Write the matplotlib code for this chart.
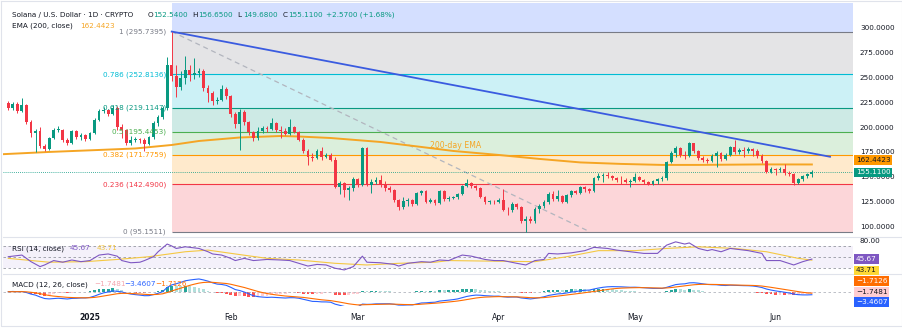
import matplotlib
matplotlib.use("Agg")
import matplotlib.pyplot as plt
import matplotlib.dates as mdates
from matplotlib.lines import Line2D
import numpy as np
import pandas as pd

plt.rcParams["font.family"] = ["DejaVu Sans"]

W, H = 903, 330

# daily candles, Dec 14 2024 .. Jun 9 2025 (open = previous close)
start_date = "2024-12-14"
first_open = 224.0
closes = [
    219, 223, 216, 222, 205, 194, 196, 181, 178, 189, 197, 197.5, 187, 184, 196, 190, 192, 188,
    194, 207, 216, 217, 213, 219, 200, 197, 184, 187, 187.5, 187, 183, 190, 204, 210, 219, 262,
    251, 240, 249, 257, 252, 254, 256, 239, 234, 226, 227, 238, 231,
    213, 203, 215, 205, 195, 189, 196, 199, 198.5, 204, 197, 196, 193, 200, 195, 187, 176, 170,
    169, 176, 170, 172, 167, 140, 144, 137, 139, 148,
    142, 179, 142, 145, 147, 142, 139, 137, 127, 120, 126, 127, 123, 134, 136, 125, 127, 124,
    136, 128, 129, 129.5, 133, 141, 144, 141, 139, 130, 125, 125, 124.5,
    127, 117, 116.5, 123, 120, 106, 107.5, 106, 118, 121, 125, 133, 128, 131, 125, 132, 136,
    134, 140, 138, 136, 149, 151, 152, 151, 149, 147, 146.5, 145, 146,
    150, 147, 145, 143, 146, 148, 149, 165, 174, 179, 172, 171, 183.5, 176, 169, 167, 166,
    171, 174, 168, 172, 180, 175, 177, 176, 178, 176, 171, 166, 155, 158,
    157, 158, 154, 153, 144, 148, 151, 152.54, 155.11,
]
highs = [
    226, 225, 225, 229, 223, 207, 198, 200, 183, 190, 199, 201, 198, 189, 197, 197, 194, 193,
    195, 209, 218, 220, 218, 222, 221, 203, 198, 191, 190, 189, 189, 191, 206, 212, 221, 270,
    295.74, 262, 256, 271, 262, 269, 259, 258, 242, 236, 230, 242, 240,
    232, 215, 218, 217, 206, 196, 200, 201, 201, 209, 205, 201, 199, 208, 201, 196, 189, 178,
    174, 178, 180, 174, 174, 170, 146, 145, 141, 150,
    149, 180, 180, 148, 150, 152, 146, 141, 138, 128, 130, 129, 128, 135, 137, 137, 129, 128,
    137, 137, 131, 131, 134, 142, 148, 145, 142, 140, 131, 127, 127,
    129, 138, 120, 125, 124, 121, 111, 111, 120, 123, 127, 135, 136, 137, 132, 133, 137,
    137, 141, 141, 139, 150, 154, 154, 155, 152, 150, 151, 149, 148,
    154, 151, 148, 146, 147, 149, 151, 166, 176, 181, 180, 176, 185, 184, 177, 171, 169,
    173, 176, 175, 174, 181, 187, 179, 180, 180, 179, 178, 173, 167, 160,
    159, 160, 163, 156, 154, 149, 152, 154, 156.65,
]
lows = [
    217, 217, 214, 215, 203, 190, 175, 179, 176, 177, 188, 195, 185, 182, 183, 188, 187, 186,
    187, 193, 206, 214, 211, 212, 197, 189, 182, 182, 185, 184, 176, 182, 188, 201, 208, 217,
    246, 230, 237, 243, 246, 248, 250, 236, 225, 222, 223, 226, 228,
    210, 199, 177, 202, 192, 186, 187, 194, 195, 197, 195, 189, 192, 192, 194, 186, 174, 162,
    166, 168, 167, 169, 166, 139, 133, 130, 127, 136,
    140, 141, 141, 134, 143, 140, 136, 135, 125, 117, 118, 121, 121, 122, 132, 124, 124, 122,
    123, 126, 126, 128, 128, 132, 140, 139, 137, 129, 123, 123, 123,
    124, 116, 112, 115, 118, 104, 95.15, 104, 104, 114, 119, 123, 126, 126, 124, 124, 130,
    133, 133, 135, 134, 135, 147, 145, 149, 147, 145, 143, 144, 140,
    145, 146, 143, 142, 142, 143, 146, 147, 164, 170, 170, 168, 170, 174, 167, 165, 164,
    165, 160, 166, 167, 171, 173, 173, 170, 174, 171, 169, 164, 154, 154,
    152, 155, 152, 151, 142, 143, 146, 149, 149.68,
]

# fibonacci retracement (Jan 19 high -> Apr 7 low)
fib_levels = [0, 0.236, 0.382, 0.5, 0.618, 0.786, 1, 1.618]
fib_colors = ["#787b86", "#f23645", "#ff9800", "#4caf50", "#089981", "#00bcd4", "#787b86", "#2962ff"]
fib_low, fib_high = 95.1511, 295.7395
fib_start = "2025-01-19"
fib_end = "2025-04-21"

# 200-day EMA (day offset from Jan 1 2025, value)
ema_days = [-19, -9, 2, 10, 18, 24, 33, 42, 46, 53, 64, 73, 80, 90, 99, 108, 117, 126, 134, 148, 159]
ema_vals = [172.8, 175, 177, 178.5, 182, 186, 189.5, 191, 190.5, 189, 185, 180, 176, 172, 168,
            164.5, 163, 162, 162, 162.5, 162.44]

# falling trendline
trend_dates = ["2025-01-19", "2025-06-13"]
trend_vals = [295.74, 170.2]

# RSI(14) and its MA
rsi_days = [-18, -15, -13, -11, -10, -8, -6, -4, -2, 0, 2, 4, 6, 7, 9, 11, 12, 14, 15, 17, 18, 19,
            21, 22, 24, 26, 27, 29, 31, 32, 34, 36, 39, 42, 44, 46, 48, 50, 52, 54, 56, 58, 60,
            61, 64, 67, 68, 70, 73, 75, 77, 79, 82, 84, 87, 89, 91, 94, 96, 98, 100, 101, 103,
            106, 109, 111, 114, 116, 119, 122, 125, 127, 129, 131, 132, 134, 136, 137, 139, 141,
            143, 145, 148, 149, 152, 155, 157, 159]
rsi_vals = [50, 53, 41, 32, 35, 43, 40, 44, 41, 43, 53, 55, 51, 43, 39, 40, 43, 50, 59, 73, 69.5,
            65, 68, 67, 65, 59, 55, 53, 47, 43, 47, 43, 45, 44, 43, 38, 33, 36, 35, 29, 26, 32,
            51, 40, 39, 36, 33, 38, 41, 40, 44, 43, 53, 51, 45, 43, 43, 38, 35, 43, 45, 56, 55,
            57, 61, 67, 65, 62, 59, 56, 56, 71, 77, 73, 75, 65, 61, 63, 59, 65, 63, 61, 56, 43,
            43, 35, 41, 45.67]
rsi_ma_days = [-18, -9, -1, 6, 13, 21, 26, 32, 39, 46, 54, 61, 68, 76, 79, 88, 98, 105, 112, 120,
               127, 134, 142, 149, 156, 159]
rsi_ma_vals = [47, 40, 41, 45, 50, 59, 62, 55, 47, 44, 38, 35, 38, 40, 43, 42, 41, 50, 61, 61, 65,
               68, 65, 59, 47, 43.71]

GREEN, RED = "#089981", "#f23645"
TXT = "#131722"
FS = 5.2


def rect(x0, y0, x1, y1):
    return [x0 / W, 1 - y1 / H, (x1 - x0) / W, (y1 - y0) / H]


def fpos(x, y):
    return x / W, 1 - y / H


c = np.array(closes, float)
o = np.concatenate([[first_open], c[:-1]])
hi = np.array(highs, float)
lo = np.array(lows, float)
dates = pd.date_range(start_date, periods=len(c))
x = mdates.date2num(dates)
jan1 = mdates.date2num(pd.Timestamp("2025-01-01"))

fig = plt.figure(figsize=(W / 100, H / 100), dpi=100)
ax = fig.add_axes(rect(3, 3, 853, 236))
ax_rsi = fig.add_axes(rect(3, 237, 853, 273), sharex=ax)
ax_macd = fig.add_axes(rect(3, 274, 853, 306), sharex=ax)
xmin, xmax = jan1 - 19.16, jan1 + 168.06

# --- fib bands
fx0 = mdates.date2num(pd.Timestamp(fib_start))
fprices = [fib_low + lv * (fib_high - fib_low) for lv in fib_levels]
for i in range(len(fib_levels) - 1):
    ax.fill_between([fx0, xmax], fprices[i], fprices[i + 1], color=fib_colors[i + 1],
                    alpha=0.2, lw=0, zorder=0)
for lv, p, col in zip(fib_levels[:-1], fprices[:-1], fib_colors[:-1]):
    ax.hlines(p, fx0, xmax, color=col, lw=0.8, zorder=1)
    ax.text(fx0 - 1.3, p, f"{lv:g} ({p:.4f})", color=col, fontsize=FS, ha="right",
            va="center", zorder=6)
ax.plot([fx0, mdates.date2num(pd.Timestamp(fib_end))], [fib_high, fib_low],
        color="#b2b5be", lw=0.9, ls=(0, (4, 3)), zorder=2)

# current price dotted line
ax.axhline(c[-1], color=GREEN, lw=0.6, ls=(0, (1, 1.5)), zorder=2)

# EMA
ax.plot(jan1 + np.array(ema_days), ema_vals, color="#f5a524", lw=1.4, zorder=3)
ax.text(jan1 + 80.5, 181, "200-day EMA", color="#f5a524", fontsize=5.6, ha="center",
        va="center", zorder=6)

# trendline
ax.plot(mdates.date2num(pd.to_datetime(trend_dates)), trend_vals, color="#3a5be0", lw=1.3,
        zorder=4)

# candles
up = c >= o
cols = np.where(up, GREEN, RED)
ax.vlines(x, lo, hi, colors=cols, lw=0.7, zorder=5)
ax.bar(x, np.maximum(np.abs(c - o), 0.7), bottom=np.minimum(o, c), width=0.62, color=cols,
       lw=0, zorder=5)

ax.set_xlim(xmin, xmax)
ax.set_ylim(90.7, 324.4)
ax.yaxis.tick_right()
ax.set_yticks(np.arange(100, 301, 25))
ax.yaxis.set_major_formatter(plt.FuncFormatter(lambda v, _: f"{v:.4f}"))
ax.tick_params(axis="y", length=0, pad=5, labelsize=FS, labelcolor=TXT)
ax.tick_params(axis="x", length=0, labelbottom=False)

# --- RSI
ax_rsi.axhspan(30, 70, color="#7e57c2", alpha=0.08, lw=0)
for lvl in (70, 50, 30):
    ax_rsi.axhline(lvl, color="#9598a1", lw=0.6, ls=(0, (3, 3)))
ax_rsi.plot(jan1 + np.array(rsi_ma_days), rsi_ma_vals, color="#f5c842", lw=0.8)
ax_rsi.plot(jan1 + np.array(rsi_days), rsi_vals, color="#7e57c2", lw=0.8)
ax_rsi.set_ylim(20.4, 85.8)
ax_rsi.yaxis.tick_right()
ax_rsi.set_yticks([80])
ax_rsi.set_yticklabels(["80.00"])
ax_rsi.tick_params(axis="y", length=0, pad=5, labelsize=FS, labelcolor=TXT)
ax_rsi.tick_params(axis="x", length=0, labelbottom=False)

# --- MACD (12, 26, 9) from closes
s = pd.Series(c)
macd = s.ewm(span=12, adjust=False).mean() - s.ewm(span=26, adjust=False).mean()
signal = macd.ewm(span=9, adjust=False).mean()
hist = macd - signal
prev = hist.shift(1).fillna(0)
hcols = np.where(hist >= 0, np.where(hist > prev, "#26a69a", "#b2dfdb"),
                 np.where(hist < prev, "#ff5252", "#ffcdd2"))
ax_macd.axhline(0, color="#b2b5be", lw=0.6, ls=(0, (3, 3)))
ax_macd.bar(x, hist, width=0.62, color=hcols, lw=0)
ax_macd.plot(x, macd, color="#2962ff", lw=0.8)
ax_macd.plot(x, signal, color="#ff6d00", lw=0.8)
ax_macd.set_ylim(-16.5, 20.5)
ax_macd.set_yticks([])

months = pd.to_datetime(["2025-01-01", "2025-02-01", "2025-03-01", "2025-04-01", "2025-05-01",
                         "2025-06-01"])
ax_macd.set_xticks(mdates.date2num(months))
ax_macd.set_xticklabels(["2025", "Feb", "Mar", "Apr", "May", "Jun"])
ax_macd.tick_params(axis="x", length=0, pad=5, labelsize=FS + 0.3, labelcolor=TXT)
ax_macd.get_xticklabels()[0].set_fontweight("bold")

for a in (ax, ax_rsi, ax_macd):
    for sp in a.spines.values():
        sp.set_visible(False)

# pane separators and frame
for yy in (236.5, 273.5):
    fig.add_artist(Line2D([3 / W, 1], [1 - yy / H] * 2, color="#e0e3eb", lw=0.8))
fig.add_artist(Line2D([1 / W, 902 / W, 902 / W, 1 / W, 1 / W],
                      [1 - 1 / H, 1 - 1 / H, 1 - 326 / H, 1 - 326 / H, 1 - 1 / H],
                      color="#e0e3eb", lw=0.8))

# --- header texts
def seg(xp, yp, s, col, **kw):
    fig.text(*fpos(xp, yp), s, color=col, fontsize=FS, va="center", ha="left", **kw)


seg(11.7, 15, "Solana / U.S. Dollar · 1D · CRYPTO", TXT)
for xp, lab, val in [(147.7, "O", "152.5400"), (192.7, "H", "156.6500"),
                     (237.7, "L", "149.6800"), (282.7, "C", "155.1100")]:
    seg(xp, 15, lab, TXT)
    seg(xp + 5, 15, val, GREEN)
seg(326, 15, "+2.5700 (+1.68%)", GREEN)
seg(11.7, 26, "EMA (200, close)", TXT)
seg(80, 26, "162.4423", "#f5a524")

seg(11.7, 248.3, "RSI (14, close)", TXT)
seg(70, 248.3, "45.67", "#7e57c2")
seg(97, 248.3, "43.71", "#f5c842")

seg(11.7, 284.3, "MACD (12, 26, close)", TXT)
seg(94, 284.3, "−1.7481", "#f4a5ad")
seg(124, 284.3, "−3.4607", "#2962ff")
seg(155, 284.3, "−1.7126", "#ff6d00")

# right scale value boxes
for yp, s_, fc, tc in [(160, "162.4423", "#ff9800", TXT), (172.5, "155.1100", GREEN, "white"),
                       (259.3, "45.67", "#7e57c2", "white"), (270.5, "43.71", "#fdd835", TXT),
                       (280.7, "−1.7126", "#ff6d00", "white"),
                       (292.3, "−1.7481", "#ffcdd2", TXT),
                       (302.3, "−3.4607", "#2962ff", "white")]:
    fig.text(*fpos(856, yp), s_, color=tc, fontsize=FS, va="center", ha="left",
             bbox=dict(boxstyle="square,pad=0.25", fc=fc, ec="none"))

fig.savefig("out.png", dpi=100, facecolor="white")
